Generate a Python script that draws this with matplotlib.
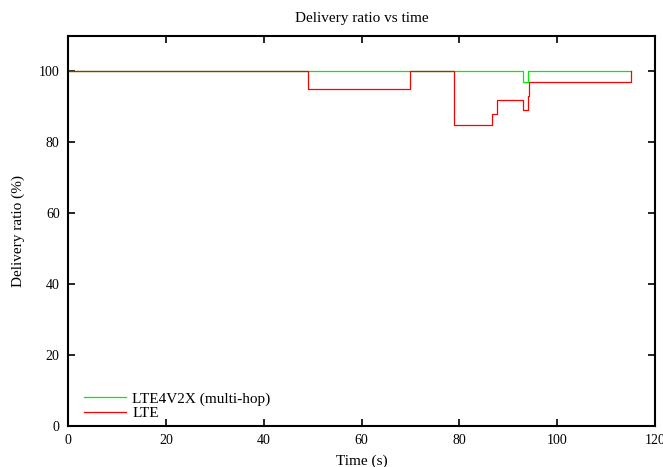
import matplotlib
matplotlib.use("Agg")
import matplotlib.pyplot as plt

# LTE4V2X (multi-hop) step series
v2x_t = [0, 93.1, 94.1, 115.1]
v2x_r = [100, 97, 100, 100]
# LTE step series
lte_t = [0, 49, 70, 79, 86.7, 87.8, 93.1, 94.1, 94.3, 115.1, 115.1]
lte_r = [100, 95, 100, 85, 88, 92, 89, 93, 97, 97, 100]

xticks = [0, 20, 40, 60, 80, 100, 120]
yticks = [0, 20, 40, 60, 80, 100]

plt.rcParams['font.family'] = ['Liberation Serif', 'DejaVu Serif']
plt.rcParams['font.size'] = 10

fig = plt.figure(figsize=(6.63, 4.67), dpi=100)
ax = fig.add_axes([68/663, 41/467, 587/663, 390/467])

ax.step(v2x_t, v2x_r, where='post', color='#00ee00', lw=0.9, label='LTE4V2X (multi-hop)')
ax.step(lte_t, lte_r, where='post', color='#ff0000', lw=0.9, label='LTE')

ax.set_xlim(0, 120)
ax.set_ylim(0, 110)
ax.set_xticks(xticks)
ax.set_yticks(yticks)
ax.tick_params(direction='in', top=True, right=True, length=5, width=1.2, pad=6, labelsize=10)
for s in ax.spines.values():
    s.set_linewidth(1.5)

ax.set_title('Delivery ratio vs time', pad=10, fontsize=11)
ax.set_xlabel('Time (s)', labelpad=5, fontsize=11)
ax.set_ylabel('Delivery ratio (%)', labelpad=10, fontsize=11)

ax.legend(loc='lower left', frameon=False, handlelength=2.75, handletextpad=0.4,
          borderaxespad=0.0, labelspacing=0.02, fontsize=11,
          bbox_to_anchor=(0.017, 0.0))

fig.savefig('out.png', dpi=100)
